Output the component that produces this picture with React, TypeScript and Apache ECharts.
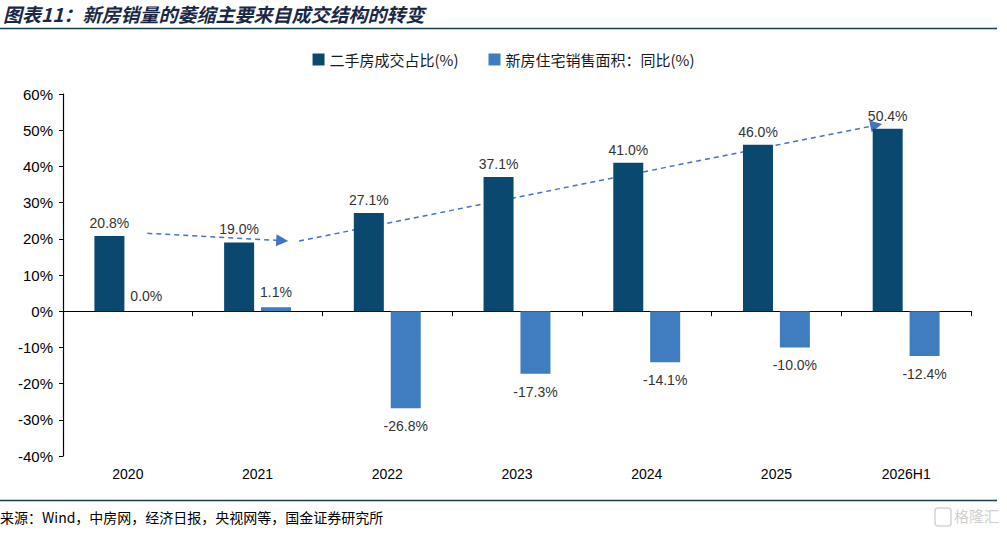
import React, { useEffect, useRef } from "react";
import * as echarts from "echarts";

const categories = ["2020", "2021", "2022", "2023", "2024", "2025", "2026H1"];
const secondHandShare = [20.8, 19.0, 27.1, 37.1, 41.0, 46.0, 50.4];
const newHomeSalesYoY = [0.0, 1.1, -26.8, -17.3, -14.1, -10.0, -12.4];
const yTicks = { min: -40, max: 60, interval: 10 };
// trend arrows: [categoryPosition, value%] start/end
const trendArrows = [
  [[0.15, 21.5], [1.19, 19.5]],
  [[1.32, 19.4], [5.77, 51.4]],
];

const seriesNames = ["二手房成交占比(%)", "新房住宅销售面积：同比(%)"];
const titleText = "图表11：新房销量的萎缩主要来自成交结构的转变";
const sourceText = "来源：Wind，中房网，经济日报，央视网等，国金证券研究所";

const DARK = "#0B4870";
const LIGHT = "#3F7DC0";
const FONT = "Arial, 'Liberation Sans', 'Noto Sans CJK SC', sans-serif";
const CJK = "'Noto Sans CJK SC', sans-serif";

function withLabels(values: number[], posDist: number, negDist: number) {
  return values.map((v) => ({
    value: v,
    label: {
      position: v >= 0 ? "top" : "bottom",
      distance: v >= 0 ? posDist : negDist,
    },
  }));
}

export default function App() {
  const ref = useRef<HTMLDivElement>(null);
  useEffect(() => {
    if (!ref.current) return;
    const chart = echarts.init(ref.current, undefined, { renderer: "svg" });
    const labelCommon = {
      show: true,
      formatter: (p: any) => `${Number(p.value).toFixed(1)}%`,
      color: "#333333",
      fontSize: 14,
      fontFamily: FONT,
    };
    chart.setOption({
      animation: false,
      backgroundColor: "#ffffff",
      grid: { left: 63, right: 36, top: 94, bottom: 77, containLabel: false },
      legend: {
        data: seriesNames,
        top: 47,
        left: "center",
        itemWidth: 12,
        itemHeight: 12,
        itemGap: 30,
        icon: "rect",
        textStyle: { fontFamily: CJK, fontSize: 15, color: "#1a1a1a" },
      },
      xAxis: [
        {
          type: "category",
          data: categories,
          axisLine: { onZero: true, lineStyle: { color: "#000", width: 1.2 } },
          axisTick: { show: true, length: 5, lineStyle: { color: "#000" } },
          axisLabel: { show: false },
        },
        {
          type: "category",
          data: categories,
          position: "bottom",
          axisLine: { show: false, onZero: false },
          axisTick: { show: false },
          axisLabel: {
            show: true,
            margin: 11,
            color: "#000",
            fontSize: 14,
            fontFamily: FONT,
          },
        },
        {
          type: "value",
          min: -0.5,
          max: 6.5,
          show: false,
        },
      ],
      yAxis: {
        type: "value",
        min: yTicks.min,
        max: yTicks.max,
        interval: yTicks.interval,
        axisLine: { show: true, onZero: false, lineStyle: { color: "#000", width: 1.2 } },
        axisTick: { show: true, length: 4, lineStyle: { color: "#000" } },
        splitLine: { show: false },
        axisLabel: {
          formatter: (v: number) => `${v}%`,
          color: "#000",
          fontSize: 15,
          fontFamily: FONT,
          margin: 10,
        },
      },
      series: [
        {
          name: seriesNames[0],
          type: "bar",
          xAxisIndex: 0,
          barWidth: 30,
          barGap: "23%",
          itemStyle: { color: DARK },
          label: labelCommon,
          data: withLabels(secondHandShare, 6, 10),
        },
        {
          name: seriesNames[1],
          type: "bar",
          xAxisIndex: 0,
          barWidth: 30,
          barGap: "23%",
          itemStyle: { color: LIGHT },
          label: labelCommon,
          data: withLabels(newHomeSalesYoY, 8, 11),
        },
        {
          type: "lines",
          coordinateSystem: "cartesian2d",
          xAxisIndex: 2,
          yAxisIndex: 0,
          silent: true,
          symbol: ["none", "triangle"],
          symbolSize: 12,
          lineStyle: { color: "#4472C4", width: 1.5, type: [5, 4], opacity: 1 },
          data: trendArrows.map((c) => ({ coords: c })),
        },
      ],
      graphic: [
        {
          type: "text",
          left: 3,
          top: 4,
          style: {
            text: titleText,
            font: `italic bold 19px ${CJK}`,
            fill: "#1b2845",
          },
        },
        {
          type: "line",
          shape: { x1: 0, y1: 28.5, x2: 997, y2: 28.5 },
          style: { stroke: "#17404f", lineWidth: 1.5 },
        },
        {
          type: "line",
          shape: { x1: 0, y1: 500.5, x2: 997, y2: 500.5 },
          style: { stroke: "#17404f", lineWidth: 1.5 },
        },
        {
          type: "text",
          left: 0,
          top: 510,
          style: {
            text: sourceText,
            font: `14px ${CJK}`,
            fill: "#000",
          },
        },
        {
          type: "rect",
          shape: { x: 935, y: 508, width: 16, height: 18, r: 3 },
          style: { fill: "none", stroke: "#d4d4d4", lineWidth: 1.5 },
        },
        {
          type: "text",
          left: 954,
          top: 508,
          style: {
            text: "格隆汇",
            font: `15px ${CJK}`,
            fill: "#d0d0d0",
          },
        },
      ],
    });
    return () => chart.dispose();
  }, []);
  return (
    <div
      ref={ref}
      style={{ position: "fixed", left: 0, top: 0, width: 1007, height: 533 }}
    />
  );
}
